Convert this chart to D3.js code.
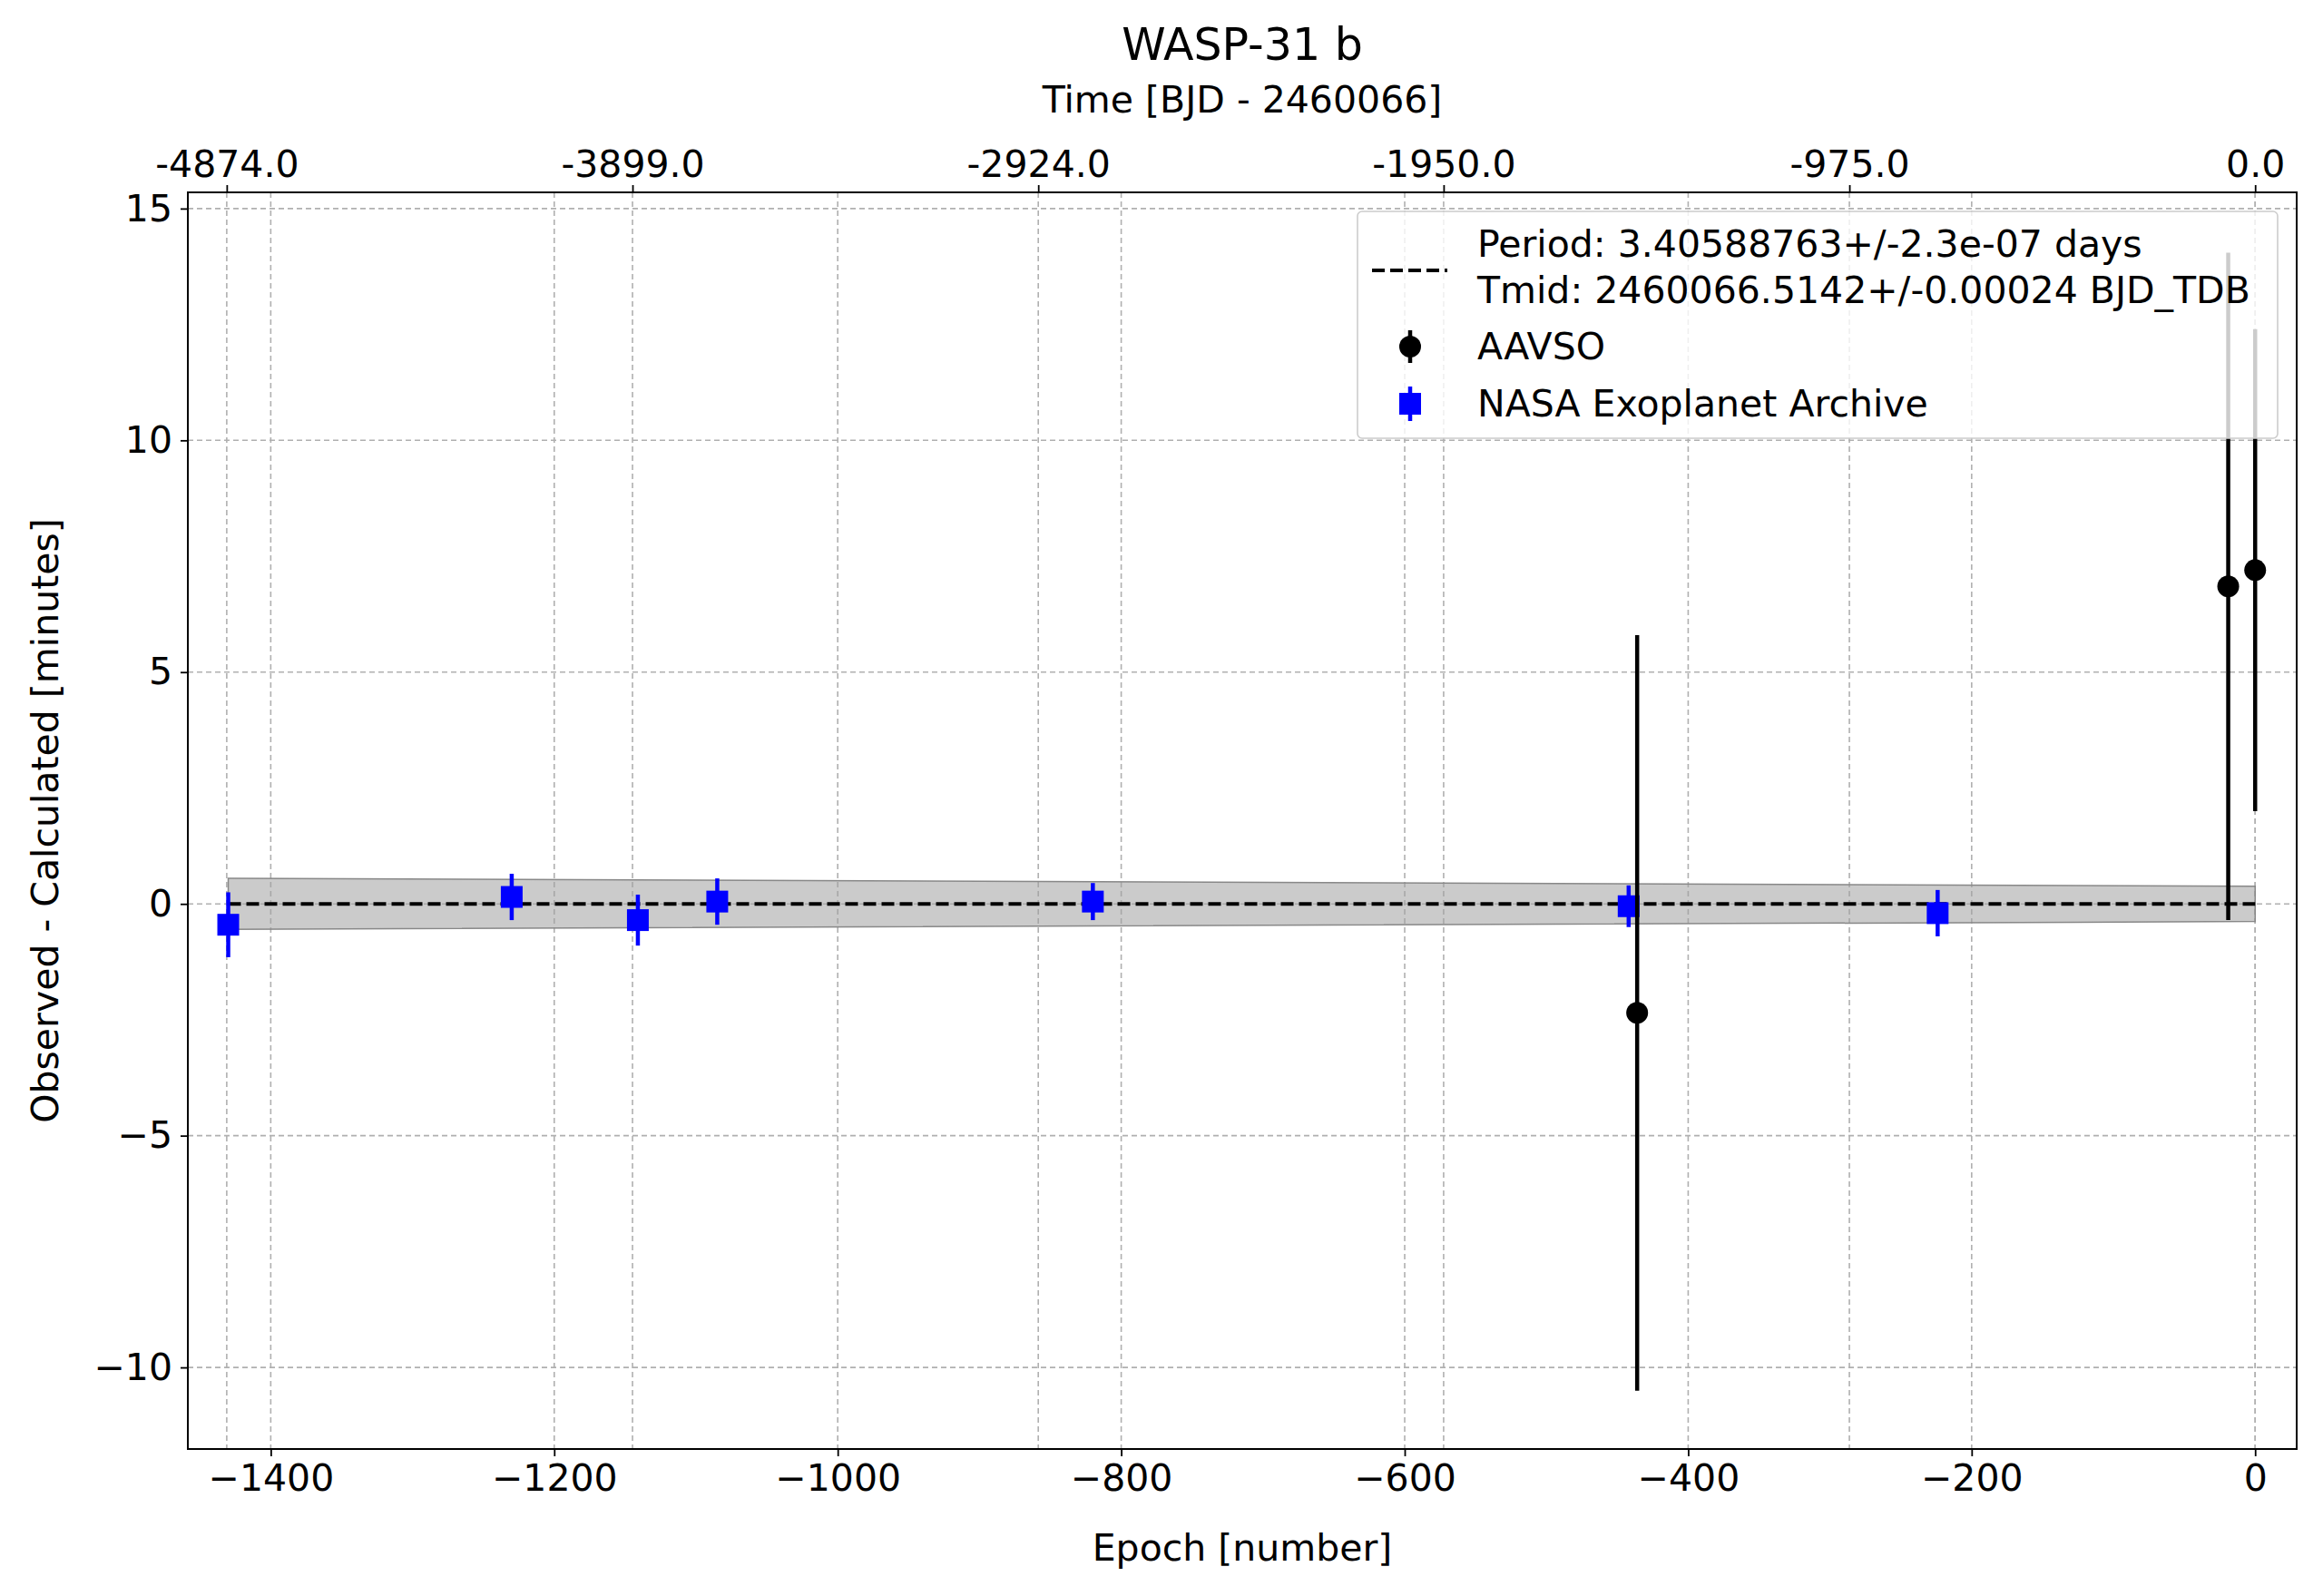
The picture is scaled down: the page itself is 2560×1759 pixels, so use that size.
<!DOCTYPE html>
<html><head><meta charset="utf-8">
<script src="https://cdn.jsdelivr.net/npm/d3@7"></script>
<style>body{margin:0;background:#fff}text{font-family:"DejaVu Sans",sans-serif}</style>
</head><body><svg id="c" width="2560" height="1759"></svg>
<script>
const period = 3.40588763;
const nasaEpoch = [-1430, -1230, -1141, -1085, -820, -442, -224];
const nasaOC = [-0.45, 0.15, -0.35, 0.05, 0.05, -0.05, -0.2];
const nasaErr = [0.7, 0.5, 0.55, 0.5, 0.4, 0.45, 0.5];
const aavsoEpoch = [-436, -19, 0];
const aavsoOC = [-2.35, 6.85, 7.2];
const aavsoErr = [8.15, 7.2, 5.2];
const bandEpoch = [-1430, 0];
const bandHalf = [0.55, 0.38];
const xTicks = [-1400, -1200, -1000, -800, -600, -400, -200, 0];
const yTicks = [-10, -5, 0, 5, 10, 15];
const topTicks = [-4874.0, -3899.0, -2924.0, -1950.0, -975.0, 0.0];

const svg = d3.select("#c");
const L=207,R=2531,T=212,B=1597;
const x = d3.scaleLinear().domain([-1458.5, 29.3]).range([L,R]);
const y = d3.scaleLinear().domain([-11.76, 15.35]).range([B,T]);
const fs = 41;

const g = svg.append("g").attr("stroke","#b0b0b0").attr("stroke-width",1.6).attr("stroke-dasharray","6,4");
xTicks.forEach(t=>g.append("line").attr("x1",x(t)).attr("x2",x(t)).attr("y1",T).attr("y2",B));
topTicks.forEach(t=>g.append("line").attr("x1",x(t/period)).attr("x2",x(t/period)).attr("y1",T).attr("y2",B));
yTicks.forEach(t=>g.append("line").attr("x1",L).attr("x2",R).attr("y1",y(t)).attr("y2",y(t)));

const area = d3.area().x((d,i)=>x(bandEpoch[i])).y0((d,i)=>y(-bandHalf[i])).y1((d,i)=>y(bandHalf[i]));
svg.append("path").datum(bandEpoch).attr("d",area).attr("fill","#a0a0a0").attr("fill-opacity",0.55).attr("stroke","#888").attr("stroke-width",1.5);
svg.append("line").attr("x1",x(-1430)).attr("x2",x(0)).attr("y1",y(0)).attr("y2",y(0)).attr("stroke","#000").attr("stroke-width",4).attr("stroke-dasharray","14,6");

nasaEpoch.forEach((e,i)=>{
  svg.append("line").attr("x1",x(e)).attr("x2",x(e)).attr("y1",y(nasaOC[i]-nasaErr[i])).attr("y2",y(nasaOC[i]+nasaErr[i])).attr("stroke","#0000ff").attr("stroke-width",4.5);
  svg.append("rect").attr("x",x(e)-12).attr("y",y(nasaOC[i])-12).attr("width",24).attr("height",24).attr("fill","#0000ff");
});
aavsoEpoch.forEach((e,i)=>{
  svg.append("line").attr("x1",x(e)).attr("x2",x(e)).attr("y1",y(aavsoOC[i]-aavsoErr[i])).attr("y2",y(aavsoOC[i]+aavsoErr[i])).attr("stroke","#000").attr("stroke-width",4.5);
  svg.append("circle").attr("cx",x(e)).attr("cy",y(aavsoOC[i])).attr("r",12).attr("fill","#000");
});

svg.append("rect").attr("x",L).attr("y",T).attr("width",R-L).attr("height",B-T).attr("fill","none").attr("stroke","#000").attr("stroke-width",2);

const bx = svg.append("g").attr("transform",`translate(0,${B})`).call(d3.axisBottom(x).tickValues(xTicks).tickFormat(d=>d<0?"\u2212"+(-d):d).tickSize(8).tickPadding(9));
const ly = svg.append("g").attr("transform",`translate(${L},0)`).call(d3.axisLeft(y).tickValues(yTicks).tickFormat(d=>d<0?"\u2212"+(-d):d).tickSize(8).tickPadding(9));
const tx = svg.append("g").attr("transform",`translate(0,${T})`).call(d3.axisTop(x).tickValues(topTicks.map(t=>t/period)).tickFormat((d,i)=>topTicks[i].toFixed(1)).tickSize(8).tickPadding(9));
[bx,ly,tx].forEach(a=>{a.select(".domain").remove();a.selectAll("line").attr("stroke-width",1.8);a.selectAll("text").attr("font-size",fs).attr("font-family","DejaVu Sans");});

svg.append("text").attr("x",(L+R)/2).attr("y",1720).attr("text-anchor","middle").attr("font-size",fs).text("Epoch [number]");
svg.append("text").attr("transform",`translate(64,${(T+B)/2}) rotate(-90)`).attr("text-anchor","middle").attr("font-size",fs).text("Observed - Calculated [minutes]");
svg.append("text").attr("x",(L+R)/2).attr("y",124).attr("text-anchor","middle").attr("font-size",fs).text("Time [BJD - 2460066]");
svg.append("text").attr("x",(L+R)/2).attr("y",66).attr("text-anchor","middle").attr("font-size",49).text("WASP-31 b");

const lg = svg.append("g");
const lfs = 41;
lg.append("rect").attr("x",1496).attr("y",233).attr("width",1014).attr("height",250).attr("rx",5).attr("fill","#fff").attr("fill-opacity",0.8).attr("stroke","#ccc").attr("stroke-width",1.6);
lg.append("line").attr("x1",1512).attr("x2",1595).attr("y1",298).attr("y2",298).attr("stroke","#000").attr("stroke-width",4).attr("stroke-dasharray","14,6");
lg.append("text").attr("x",1628).attr("y",283).attr("font-size",lfs).text("Period: 3.40588763+/-2.3e-07 days");
lg.append("text").attr("x",1628).attr("y",334).attr("font-size",lfs).text("Tmid: 2460066.5142+/-0.00024 BJD_TDB");
lg.append("line").attr("x1",1554).attr("x2",1554).attr("y1",364).attr("y2",400).attr("stroke","#000").attr("stroke-width",4.5);
lg.append("circle").attr("cx",1554).attr("cy",382).attr("r",12);
lg.append("text").attr("x",1628).attr("y",396).attr("font-size",lfs).text("AAVSO");
lg.append("line").attr("x1",1554).attr("x2",1554).attr("y1",426).attr("y2",464).attr("stroke","#0000ff").attr("stroke-width",4.5);
lg.append("rect").attr("x",1542).attr("y",433).attr("width",24).attr("height",24).attr("fill","#0000ff");
lg.append("text").attr("x",1628).attr("y",459).attr("font-size",lfs).text("NASA Exoplanet Archive");
</script></body></html>
